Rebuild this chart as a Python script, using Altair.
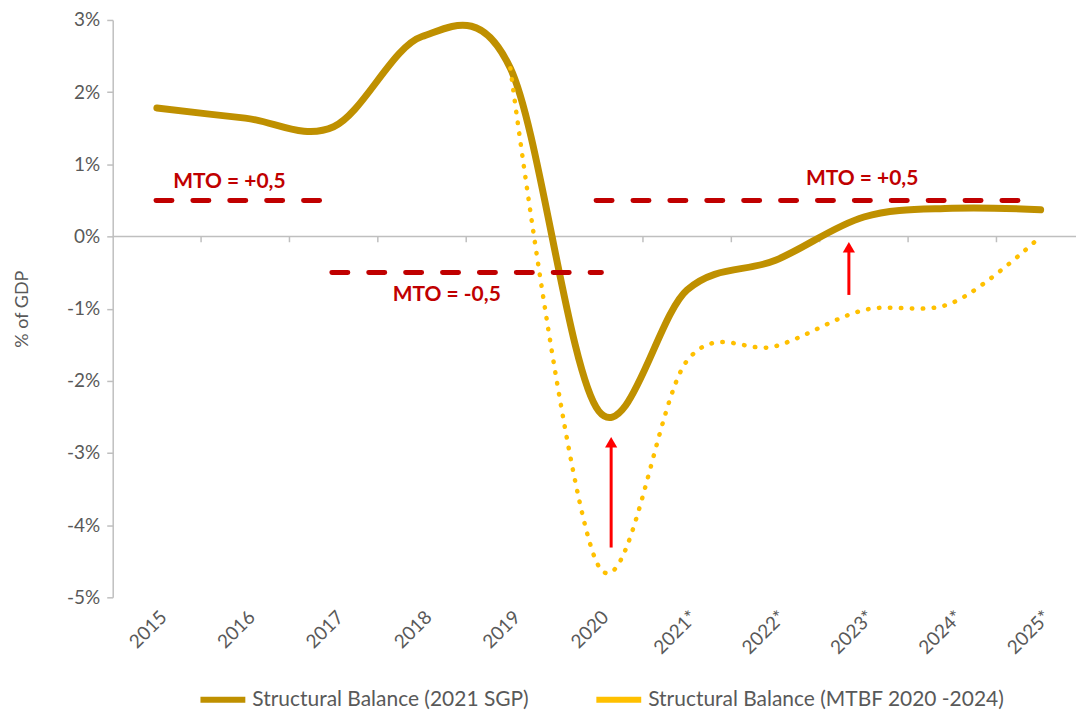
import altair as alt
import pandas as pd

# ---------------- data ----------------
years = ["2015", "2016", "2017", "2018", "2019", "2020",
         "2021*", "2022*", "2023*", "2024*", "2025*"]
sgp_2021 = [1.78, 1.64, 1.52, 2.77, 2.33, -2.42, -0.74, -0.33, 0.27, 0.39, 0.37]
mtbf_years = ["2019", "2020", "2021*", "2022*", "2023*", "2024*", "2025*"]
mtbf = [2.33, -4.57, -1.72, -1.52, -1.02, -0.92, 0.00]
series_names = ["Structural Balance (2021 SGP)", "Structural Balance (MTBF  2020 -2024)"]

# MTO reference segments (value, start, end on the category axis, 0 = left edge)
mto_value = [0.5, -0.5, 0.5]
mto_start = [0.49, 2.48, 5.47]
mto_end = [2.37, 5.53, 10.29]
mto_label = ["MTO = +0,5", "MTO = -0,5", "MTO = +0,5"]
mto_label_x = [1.32, 3.78, 8.48]
mto_label_y = [0.76, -0.81, 0.79]

# arrows (x, from, to)
arrow_x = [5.64, 8.33]
arrow_from = [-4.31, -0.81]
arrow_to = [-2.85, -0.15]

y_ticks = [-5, -4, -3, -2, -1, 0, 1, 2, 3]

# ---------------- frames ----------------
pos = {y: i + 0.5 for i, y in enumerate(years)}
df_sgp = pd.DataFrame({"year": years, "x": [pos[y] for y in years],
                       "value": sgp_2021, "series": series_names[0]})
df_mtbf = pd.DataFrame({"year": mtbf_years, "x": [pos[y] for y in mtbf_years],
                        "value": mtbf, "series": series_names[1]})
df_mto = pd.DataFrame({"v": mto_value, "x0": mto_start, "x1": mto_end})
df_mto_lab = pd.DataFrame({"t": mto_label, "x": mto_label_x, "y": mto_label_y})
df_arrow = pd.DataFrame({"x": arrow_x, "y0": arrow_from, "y1": arrow_to})
df_bound = pd.DataFrame({"x": list(range(1, len(years)))})

FONT = "Lato"
GREY = "#595959"
XDOM = [0, 10.9]
CURVE = "cardinal"

xscale = alt.Scale(domain=XDOM, nice=False, zero=False)
yscale = alt.Scale(domain=[-5, 3], nice=False)

label_arr = "[" + ",".join("'%s'" % y for y in years) + "]"

x_axis = alt.Axis(values=[pos[y] for y in years],
                  labelExpr=label_arr + "[floor(datum.value)]",
                  labelAngle=-45, labelAlign="right", labelBaseline="top",
                  labelPadding=10, labelFontSize=19, labelColor=GREY, labelFont=FONT,
                  domain=False, ticks=False, grid=False, title=None)
y_axis = alt.Axis(values=y_ticks, labelExpr="datum.value + '%'",
                  labelFontSize=19, labelColor=GREY, labelFont=FONT,
                  labelPadding=7, tickSize=6, tickColor="#BFBFBF", tickWidth=1.5,
                  domainColor="#BFBFBF", domainWidth=1.5, grid=False,
                  title="% of GDP", titleFont=FONT, titleFontSize=18,
                  titleFontWeight="normal", titleColor=GREY, titlePadding=35)

color = alt.Color("series:N",
                  scale=alt.Scale(domain=series_names, range=["#BF9000", "#FFC000"]),
                  legend=alt.Legend(title=None, orient="none", legendX=85, legendY=656,
                                    direction="horizontal", symbolType="stroke",
                                    symbolSize=2025, symbolStrokeWidth=6,
                                    labelFont=FONT, labelFontSize=21, labelColor=GREY,
                                    labelLimit=0, labelOffset=4, columnPadding=55,
                                    symbolDash=[1, 0]))

zero = alt.Chart(pd.DataFrame({"v": [0]})).mark_rule(color="#BFBFBF", strokeWidth=1.5).encode(
    y=alt.Y("v:Q", scale=yscale, axis=y_axis))

bounds = alt.Chart(df_bound).mark_rule(color="#BFBFBF", strokeWidth=1.5).encode(
    x=alt.X("x:Q", scale=xscale, axis=x_axis),
    y=alt.datum(0), y2=alt.datum(-0.08))

gold = alt.Chart(df_sgp).mark_line(strokeWidth=7, interpolate=CURVE, strokeCap="round").encode(
    x=alt.X("x:Q", scale=xscale, axis=x_axis),
    y=alt.Y("value:Q", scale=yscale, axis=y_axis),
    color=color)

dotted = alt.Chart(df_mtbf).mark_line(strokeWidth=4.5, interpolate=CURVE, strokeCap="round",
                                      strokeDash=[0.5, 10.5]).encode(
    x=alt.X("x:Q", scale=xscale, axis=x_axis),
    y=alt.Y("value:Q", scale=yscale, axis=y_axis),
    color=color)

mto = alt.Chart(df_mto).mark_rule(color="#C00000", strokeWidth=5, strokeDash=[16, 21],
                                  strokeCap="round").encode(
    x=alt.X("x0:Q", scale=xscale, axis=x_axis), x2="x1:Q",
    y=alt.Y("v:Q", scale=yscale, axis=y_axis))

mto_text = alt.Chart(df_mto_lab).mark_text(color="#C00000", font=FONT, fontSize=21,
                                           fontWeight="bold").encode(
    x=alt.X("x:Q", scale=xscale, axis=x_axis),
    y=alt.Y("y:Q", scale=yscale, axis=y_axis),
    text="t:N")

shaft = alt.Chart(df_arrow).mark_rule(color="#FF0000", strokeWidth=3).encode(
    x=alt.X("x:Q", scale=xscale, axis=x_axis),
    y=alt.Y("y0:Q", scale=yscale, axis=y_axis), y2="y1:Q")

head = alt.Chart(df_arrow).mark_point(shape="triangle-up", filled=True, color="#FF0000",
                                      size=150, opacity=1).encode(
    x=alt.X("x:Q", scale=xscale, axis=x_axis),
    y=alt.Y("y1:Q", scale=yscale, axis=y_axis))

chart = alt.layer(zero, bounds, gold, dotted, mto, mto_text, shaft, head).properties(
    width=966, height=579, padding={"left": 5, "top": 2, "right": 0, "bottom": 0}
).configure_view(stroke=None)

chart.save("out.html", embed_options={"renderer": "svg", "actions": False})
